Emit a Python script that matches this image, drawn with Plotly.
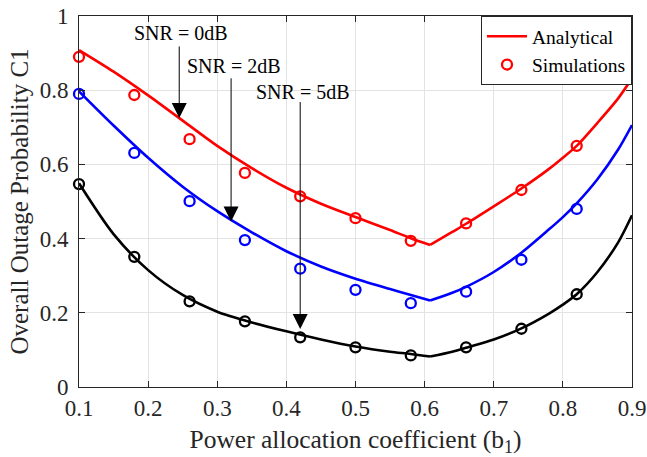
import plotly.graph_objects as go

# ---------------- data ----------------
b_left = [0.10, 0.15, 0.20, 0.25, 0.30, 0.35, 0.40, 0.45, 0.50, 0.55, 0.58, 0.608]
b_right = [0.608, 0.64, 0.66, 0.70, 0.74, 0.78, 0.80, 0.82, 0.85, 0.88, 0.90]

red_left = [0.908, 0.850, 0.786, 0.718, 0.650, 0.590, 0.537, 0.494, 0.458, 0.423, 0.401, 0.383]
red_right = [0.383, 0.418, 0.440, 0.487, 0.535, 0.588, 0.618, 0.650, 0.712, 0.778, 0.832]

blue_left = [0.797, 0.705, 0.618, 0.540, 0.474, 0.417, 0.366, 0.325, 0.292, 0.264, 0.248, 0.233]
blue_right = [0.233, 0.254, 0.270, 0.310, 0.362, 0.425, 0.458, 0.495, 0.560, 0.640, 0.706]

black_left = [0.549, 0.412, 0.315, 0.248, 0.203, 0.174, 0.150, 0.128, 0.109, 0.095, 0.089, 0.082]
black_right = [0.082, 0.095, 0.106, 0.128, 0.158, 0.198, 0.222, 0.250, 0.310, 0.390, 0.463]

b_sim = [0.10, 0.18, 0.26, 0.34, 0.42, 0.50, 0.58, 0.66, 0.74, 0.82]
red_sim = [0.890, 0.787, 0.668, 0.577, 0.514, 0.455, 0.394, 0.441, 0.531, 0.650]
blue_sim = [0.790, 0.631, 0.501, 0.396, 0.319, 0.262, 0.226, 0.257, 0.343, 0.480]
black_sim = [0.547, 0.351, 0.231, 0.177, 0.134, 0.107, 0.085, 0.107, 0.157, 0.250]

x_ticks = [0.1, 0.2, 0.3, 0.4, 0.5, 0.6, 0.7, 0.8, 0.9]
x_tick_labels = ["0.1", "0.2", "0.3", "0.4", "0.5", "0.6", "0.7", "0.8", "0.9"]
y_ticks = [0, 0.2, 0.4, 0.6, 0.8, 1.0]
y_tick_labels = ["0", "0.2", "0.4", "0.6", "0.8", "1"]

# annotations: label, text x, text y, arrow x, tail y, tip y
snr_labels = ["SNR = 0dB", "SNR = 2dB", "SNR = 5dB"]
snr_text_x = [0.248, 0.324, 0.424]
snr_text_y = [0.954, 0.865, 0.795]
snr_arrow_x = [0.245, 0.320, 0.420]
snr_tail_y = [0.922, 0.836, 0.772]
snr_tip_y = [0.725, 0.446, 0.156]

FONT = "Liberation Serif"
colors = {"red": "#ff0000", "blue": "#0000ff", "black": "#000000"}

fig = go.Figure()

curves = [
    ("red", red_left, red_right, red_sim),
    ("blue", blue_left, blue_right, blue_sim),
    ("black", black_left, black_right, black_sim),
]

for i, (name, yl, yr, ys) in enumerate(curves):
    c = colors[name]
    fig.add_trace(go.Scatter(
        x=b_left, y=yl, mode="lines",
        line=dict(color=c, width=2.6, shape="spline", smoothing=0.8),
        name="Analytical", showlegend=(i == 0), legendrank=1,
    ))
    fig.add_trace(go.Scatter(
        x=b_right, y=yr, mode="lines",
        line=dict(color=c, width=2.6, shape="spline", smoothing=0.8),
        showlegend=False,
    ))

for i, (name, yl, yr, ys) in enumerate(curves):
    c = colors[name]
    fig.add_trace(go.Scatter(
        x=b_sim, y=ys, mode="markers",
        marker=dict(symbol="circle-open", size=10, color=c, line=dict(width=2.3, color=c)),
        name="Simulations", showlegend=(i == 0), legendrank=2,
        cliponaxis=False,
    ))

annotations = []
for lab, tx, ty, axx, tail, tip in zip(snr_labels, snr_text_x, snr_text_y,
                                      snr_arrow_x, snr_tail_y, snr_tip_y):
    annotations.append(dict(
        x=tx, y=ty, xref="x", yref="y", text=lab, showarrow=False,
        font=dict(family=FONT, size=20, color="#000000"),
        xanchor="center", yanchor="middle",
    ))
    annotations.append(dict(
        x=axx, y=tip, ax=axx, ay=tail, xref="x", yref="y", axref="x", ayref="y",
        text="", showarrow=True, arrowhead=2, arrowsize=3, arrowwidth=1,
        arrowcolor="#000000", standoff=0, startstandoff=0,
    ))

axis_common = dict(
    showline=True, linecolor="#262626", linewidth=1, mirror="allticks",
    ticks="inside", ticklen=6, tickcolor="#262626", tickwidth=1,
    showgrid=True, gridcolor="#e3e3e3", gridwidth=1, zeroline=False,
    tickfont=dict(family=FONT, size=23, color="#262626"),
    automargin=False,
)

fig.update_layout(
    width=647, height=457,
    margin=dict(l=79, r=15, t=16, b=70),
    paper_bgcolor="white", plot_bgcolor="white",
    font=dict(family=FONT, size=20, color="#262626"),
    xaxis=dict(range=[0.1, 0.9], tickvals=x_ticks, ticktext=x_tick_labels,
               title=dict(text="Power allocation coefficient (b<sub>1</sub>)",
                          font=dict(family=FONT, size=25.5, color="#262626"), standoff=10),
               **axis_common),
    yaxis=dict(range=[0, 1], tickvals=y_ticks, ticktext=y_tick_labels,
               ticklabelstandoff=5,
               title=dict(text="Overall Outage Probability C1",
                          font=dict(family=FONT, size=25, color="#262626"), standoff=3),
               **axis_common),
    legend=dict(x=1, y=1, xanchor="right", yanchor="top",
                bgcolor="white", bordercolor="#262626", borderwidth=1,
                font=dict(family=FONT, size=19.5, color="#000000"),
                tracegroupgap=0, itemwidth=40),
    annotations=annotations,
    showlegend=True,
)

# remove the default 8px page margin so the figure sits at the window origin
fig.write_html("out.html",
               config={"displayModeBar": False},
               post_script="document.body.style.margin='0';document.body.style.overflow='hidden';")
